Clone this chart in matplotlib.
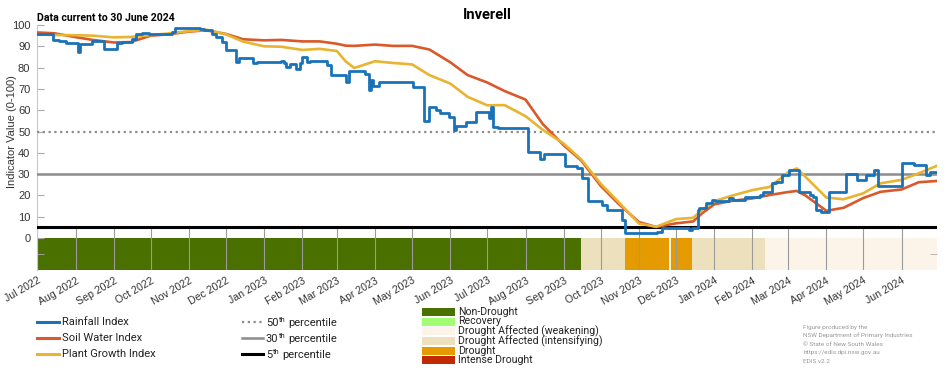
import matplotlib
matplotlib.use("Agg")
import matplotlib.pyplot as plt
import matplotlib.dates as mdates
from matplotlib.lines import Line2D
from matplotlib.patches import Rectangle
import pandas as pd

# ---------------- data ----------------
rain_dates = [
    "2022-07-01", "2022-07-14", "2022-07-19", "2022-07-24", "2022-08-03", "2022-08-05",
    "2022-08-14", "2022-08-24", "2022-09-04", "2022-09-08", "2022-09-16", "2022-09-19",
    "2022-09-24", "2022-09-30", "2022-10-18", "2022-10-21", "2022-11-10", "2022-11-13",
    "2022-11-20", "2022-11-23", "2022-11-28", "2022-12-01", "2022-12-09", "2022-12-12",
    "2022-12-23", "2022-12-26", "2023-01-15", "2023-01-17", "2023-01-19", "2023-01-22",
    "2023-01-27", "2023-01-30", "2023-02-01", "2023-02-05", "2023-02-07", "2023-02-21",
    "2023-02-24", "2023-03-08", "2023-03-11", "2023-03-24", "2023-03-27", "2023-03-29",
    "2023-03-30", "2023-04-04", "2023-05-02", "2023-05-11", "2023-05-15", "2023-05-20",
    "2023-05-24", "2023-05-31", "2023-06-04", "2023-06-06", "2023-06-14", "2023-06-22",
    "2023-07-02", "2023-07-04", "2023-07-06", "2023-07-10", "2023-08-03", "2023-08-13",
    "2023-08-16", "2023-09-02", "2023-09-12", "2023-09-16", "2023-09-21", "2023-10-02",
    "2023-10-06", "2023-10-18", "2023-10-21", "2023-11-03", "2023-11-16", "2023-11-20",
    "2023-12-12", "2023-12-14", "2023-12-19", "2023-12-20", "2023-12-25", "2023-12-30",
    "2024-01-02", "2024-01-13", "2024-01-16", "2024-01-26", "2024-02-07", "2024-02-10",
    "2024-02-17", "2024-02-20", "2024-02-25", "2024-03-02", "2024-03-10", "2024-03-19",
    "2024-03-21", "2024-03-24", "2024-03-28", "2024-04-03", "2024-04-17", "2024-04-26",
    "2024-05-03", "2024-05-10", "2024-05-13", "2024-06-01", "2024-06-11", "2024-06-21",
    "2024-06-24", "2024-06-30",
]
rain_index = [
    96, 93, 92.5, 91.7, 87.2, 91,
    92.3, 88.6, 91.4, 91.8, 93.3, 95.8,
    96.2, 95.8, 96.5, 98.6, 98.2, 97.7,
    96, 94.5, 92.2, 88.3, 82.8, 84.7,
    82, 82.5, 83.3, 82, 80.4, 81.5,
    79.5, 82, 85.2, 82.8, 83.1, 81.2,
    76.5, 73.4, 78.5, 77, 69.5, 74,
    71.3, 73.4, 71, 55, 61.6, 60,
    58.7, 57, 50.7, 52.5, 54.5, 59.3,
    56.3, 61.6, 52.3, 51.5, 40.3, 37,
    39.4, 33.8, 33, 28, 17.5, 15.7,
    13.3, 8.5, 2.2, 2.5, 3, 4.5,
    3.8, 4.8, 13, 14, 16.6, 17.8,
    17.3, 18.6, 17.8, 19.4, 20.2, 21.7,
    25.7, 26.4, 29.6, 31.8, 21.7, 20.2,
    19.4, 13, 12.4, 21.7, 29.9, 27.2,
    29.6, 32, 24.3, 35, 34.3, 29.6,
    31, 31,
]

smooth_dates = [
    "2022-07-01", "2022-07-15", "2022-08-01", "2022-08-15", "2022-09-01", "2022-09-15",
    "2022-10-01", "2022-10-15", "2022-11-01", "2022-11-15", "2022-12-01", "2022-12-15",
    "2023-01-01", "2023-01-15", "2023-02-01", "2023-02-15", "2023-03-01", "2023-03-08",
    "2023-03-15", "2023-04-01", "2023-04-15", "2023-05-01", "2023-05-15", "2023-06-01",
    "2023-06-15", "2023-07-01", "2023-07-15", "2023-08-01", "2023-08-15", "2023-09-01",
    "2023-09-15", "2023-10-01", "2023-10-15", "2023-11-01", "2023-11-15", "2023-12-01",
    "2023-12-15", "2023-12-22", "2024-01-01", "2024-01-15", "2024-02-01", "2024-02-15",
    "2024-03-01", "2024-03-08", "2024-03-15", "2024-04-01", "2024-04-15", "2024-05-01",
    "2024-05-15", "2024-06-01", "2024-06-15", "2024-06-30",
]
soil_water_index = [
    96.5, 96.1, 94.3, 93.0, 91.8, 92.0,
    95.0, 95.6, 96.9, 97.5, 95.8, 93.3,
    92.8, 93.0, 92.3, 92.3, 91.2, 90.3,
    90.2, 90.8, 90.2, 90.2, 88.5, 82.5,
    76.5, 73.0, 69.0, 65.0, 53.5, 43.5,
    36.5, 24.5, 16.3, 7.5, 5.2, 6.9,
    7.8, 11.5, 15.8, 17.4, 18.6, 20.2,
    21.6, 22.1, 20.0, 12.8, 14.2, 18.8,
    21.7, 22.8, 26.2, 26.8,
]
plant_growth_index = [
    95.5, 95.3, 95.2, 95.0, 94.2, 94.4,
    95.3, 96.0, 97.1, 97.8, 95.6, 92.2,
    90.0, 89.8, 88.3, 88.8, 87.8, 83.0,
    79.8, 83.0, 82.2, 81.5, 76.5, 72.5,
    66.3, 62.3, 62.4, 57.2, 50.8, 44.3,
    37.0, 25.5, 17.2, 6.8, 5.3, 8.9,
    9.5, 13.0, 17.3, 19.8, 22.5, 24.0,
    30.8, 32.7, 28.8, 19.0, 18.2, 21.0,
    25.7, 27.3, 30.4, 34.0,
]

band_starts = ["2022-07-01", "2023-09-15", "2023-10-21", "2023-11-25",
               "2023-11-27", "2023-12-14", "2024-02-11"]
band_ends = ["2023-09-15", "2023-10-21", "2023-11-25", "2023-11-27",
             "2023-12-14", "2024-02-11", "2024-06-30"]
band_categories = ["Non-Drought", "Drought Affected (intensifying)", "Drought",
                   "Drought Affected (weakening)", "Drought",
                   "Drought Affected (intensifying)", "Drought Affected (weakening)"]

category_names = ["Non-Drought", "Recovery", "Drought Affected (weakening)",
                  "Drought Affected (intensifying)", "Drought", "Intense Drought"]
category_colors = ["#4a7000", "#a3fd73", "#fcf4e8", "#ece0bd", "#e59a00", "#c12a00"]

percentiles = [50, 30, 5]
percentile_nums = ["50", "30", "5"]
series_labels = ["Rainfall Index", "Soil Water Index", "Plant Growth Index"]

# ---------------- styles ----------------
C_RAIN, C_SOIL, C_PLANT = "#1a72b9", "#d9592a", "#e8b432"
perc_styles = [dict(color="#8c8c8c", ls=(0, (1, 1.6)), lw=1.6),
               dict(color="#8c8c8c", ls="-", lw=1.8),
               dict(color="#000000", ls="-", lw=2.2)]
FONT = ["Roboto", "DejaVu Sans"]
TICKFONT = ["Liberation Sans", "DejaVu Sans"]

W, H = 952, 370
fig = plt.figure(figsize=(W / 100, H / 100), dpi=100)
ax = fig.add_axes([37.3 / W, 1 - 270 / H, 900 / W, 245 / H])

x_start, x_end = pd.Timestamp("2022-07-01"), pd.Timestamp("2024-06-30")
ax.set_xlim(x_start, x_end)
ax.set_ylim(-15, 100)

# drought band
cat_color = dict(zip(category_names, category_colors))
for s, e, c in zip(band_starts, band_ends, band_categories):
    s_num = mdates.date2num(pd.Timestamp(s))
    e_num = mdates.date2num(pd.Timestamp(e))
    ax.bar(s_num, 15, bottom=-15, width=e_num - s_num, align="edge",
           color=cat_color[c], edgecolor="none", zorder=1)

# month tick lines through band
months = pd.date_range("2022-07-01", "2024-06-01", freq="MS")
ax.vlines(months, -15, 4.5, color="#9a9a9a", lw=0.8, zorder=2)

# percentile lines
for p, st in zip(percentiles, perc_styles):
    ax.axhline(p, zorder=3, **st)

# series
ax.plot(pd.to_datetime(smooth_dates), soil_water_index, color=C_SOIL, lw=1.9, zorder=4)
ax.plot(pd.to_datetime(smooth_dates), plant_growth_index, color=C_PLANT, lw=1.9, zorder=5)
ax.plot(pd.to_datetime(rain_dates), rain_index, color=C_RAIN, lw=2.0,
        drawstyle="steps-post", zorder=6)

# axes styling
for sp in ["top", "right", "bottom"]:
    ax.spines[sp].set_visible(False)
ax.spines["left"].set_color("#c8c8c8")
ax.spines["left"].set_linewidth(0.8)
ax.set_yticks(range(0, 101, 10))
ax.set_yticks([-7.5], minor=True)
ax.tick_params(axis="y", which="major", direction="in", length=5, color="#aaaaaa",
               labelsize=8, labelcolor="#333333", pad=5)
ax.tick_params(axis="y", which="minor", direction="in", length=5, color="#aaaaaa",
               left=True, right=True)
for lab in ax.get_yticklabels():
    lab.set_family(TICKFONT)

ax.set_xticks(months)
ax.xaxis.set_major_formatter(mdates.DateFormatter("%b %Y"))
ax.tick_params(axis="x", length=0, pad=4, labelsize=7.6, labelcolor="#333333")
for lab in ax.get_xticklabels():
    lab.set_rotation(30)
    lab.set_ha("right")
    lab.set_va("top")
    lab.set_rotation_mode("anchor")
    lab.set_family(TICKFONT)

# titles
fig.text(487 / W, 1 - 15 / H, "Inverell", ha="center", va="center",
         fontsize=10.5, fontweight="bold", family=FONT)
fig.text(37 / W, 1 - 18 / H, "Data current to 30 June 2024", ha="left", va="center",
         fontsize=7.6, fontweight="bold", family=FONT)
fig.text(12 / W, 1 - 132 / H, "Indicator Value (0-100)", rotation=90, ha="center",
         va="center", fontsize=8, color="#333333", family=TICKFONT)

renderer = fig.canvas.get_renderer()

# legend: series
rows = [322, 338, 354]
for y, lab, col in zip(rows, series_labels, [C_RAIN, C_SOIL, C_PLANT]):
    fig.add_artist(Line2D([37 / W, 59 / W], [1 - y / H] * 2, color=col, lw=2.2))
    fig.text(62 / W, 1 - y / H, lab, ha="left", va="center", fontsize=8,
             color="#222222", family=FONT)

# legend: percentiles (number + superscript "th" + text)
for y, num, st in zip(rows, percentile_nums, perc_styles):
    fig.add_artist(Line2D([242 / W, 263 / W], [1 - y / H] * 2, **st))
    yb = 1 - (y + 4) / H
    t1 = fig.text(266 / W, yb, num, ha="left", va="baseline", fontsize=8,
                  color="#222222", family=FONT)
    x1 = t1.get_window_extent(renderer).x1 / W
    t2 = fig.text(x1 + 0.5 / W, yb + 4 / H, "th", ha="left", va="baseline", fontsize=5.5,
                  color="#222222", family=FONT)
    x2 = t2.get_window_extent(renderer).x1 / W
    fig.text(x2 + 2.5 / W, yb, "percentile", ha="left", va="baseline", fontsize=8,
             color="#222222", family=FONT)

# legend: drought categories
cat_rows = [311.7, 321.5, 331.2, 340.9, 350.6, 360.3]
for y, lab, col in zip(cat_rows, category_names, category_colors):
    fig.add_artist(Rectangle((422 / W, 1 - (y + 4) / H), 33 / W, 8 / H,
                             facecolor=col, edgecolor="none"))
    fig.text(458 / W, 1 - y / H, lab, ha="left", va="center", fontsize=7.6,
             color="#222222", family=FONT)

# credits
credits = ["Figure produced by the", "NSW Department of Primary Industries",
           "\u00a9 State of New South Wales", "https://edis.dpi.nsw.gov.au", "EDIS v2.2"]
for i, t in enumerate(credits):
    fig.text(803 / W, 1 - (327 + 8.6 * i) / H, t, ha="left", va="center",
             fontsize=4.6, color="#9a9a9a", family=FONT)

fig.savefig("out.png", dpi=100)
